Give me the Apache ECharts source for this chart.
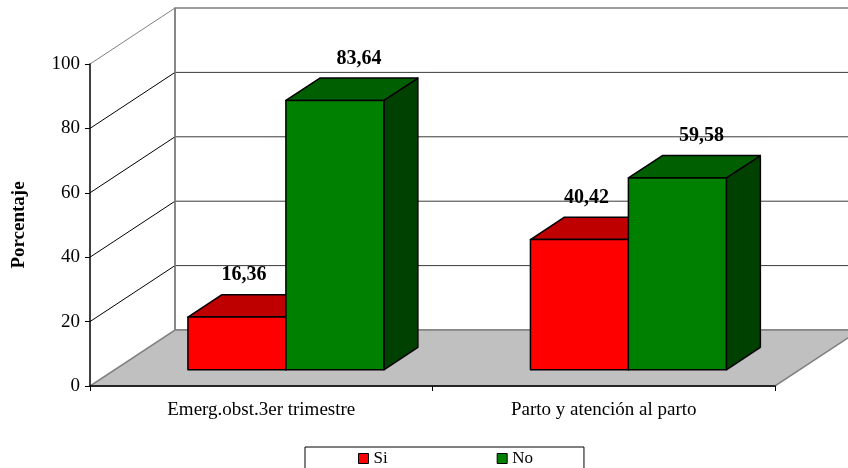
<!DOCTYPE html>
<html>
<head>
<meta charset="utf-8">
<script src="https://cdn.jsdelivr.net/npm/echarts@6/dist/echarts.min.js"></script>
<style>
  html, body { margin: 0; padding: 0; background: #ffffff; }
  #chart { width: 848px; height: 468px; }
</style>
</head>
<body>
<div id="chart"></div>
<script>
// Data
const categories = ['Emerg.obst.3er trimestre', 'Parto y atención al parto'];
const seriesNames = ['Si', 'No'];
const siValues = [16.36, 40.42];
const noValues = [83.64, 59.58];
const yTicks = [0, 20, 40, 60, 80, 100];

// Look
const FONT = '"Liberation Serif", "Times New Roman", serif';
const DEPTH = [85, -56];            // full depth vector of the floor / side wall
const BAR_FRONT = 0.29;             // front plane of the bars, as a share of DEPTH
const BAR_BACK = 0.69;              // back plane of the bars
const BAR_FRAC = 0.286;             // width of one bar as a share of the category band
const LABEL_DX = [7, 24];
const LABEL_DY = -42;
const palettes = [
  { front: '#FF0000', top: '#BF0000', side: '#990000' },
  { front: '#008000', top: '#005F00', side: '#004000' }
];

const chart = echarts.init(document.getElementById('chart'), null, { renderer: 'canvas' });

// Walls, floor and gridlines of the 3D box
function renderFrame(params, api) {
  const cs = params.coordSys;
  const x0 = cs.x, x1 = cs.x + cs.width;
  const y0 = api.coord([0, 0])[1];
  const yTop = api.coord([0, 100])[1];
  const dx = DEPTH[0], dy = DEPTH[1];
  const children = [];
  children.push({ type: 'polygon',
    shape: { points: [[x0, y0], [x0, yTop], [x0 + dx, yTop + dy], [x0 + dx, y0 + dy]] },
    style: { fill: '#ffffff' } });
  children.push({ type: 'rect',
    shape: { x: x0 + dx, y: yTop + dy, width: cs.width, height: y0 - yTop },
    style: { fill: '#ffffff', stroke: '#808080', lineWidth: 1.5 } });
  children.push({ type: 'polygon',
    shape: { points: [[x0, y0], [x1, y0], [x1 + dx, y0 + dy], [x0 + dx, y0 + dy]] },
    style: { fill: '#C0C0C0', stroke: '#808080', lineWidth: 1.5 } });
  yTicks.forEach(function (v) {
    if (v === 0) return;
    const y = api.coord([0, v])[1];
    children.push({ type: 'line',
      shape: { x1: x0, y1: y, x2: x0 + dx, y2: y + dy },
      style: { stroke: v === 100 ? '#808080' : '#000000', lineWidth: 1 } });
    if (v < 100) {
      children.push({ type: 'line',
        shape: { x1: x0 + dx, y1: y + dy, x2: x1 + dx, y2: y + dy },
        style: { stroke: '#3a3a3a', lineWidth: 1 } });
    }
  });
  children.push({ type: 'line',
    shape: { x1: x0 + dx, y1: y0 + dy, x2: x0 + dx, y2: yTop + dy },
    style: { stroke: '#808080', lineWidth: 1.5 } });
  return { type: 'group', children: children };
}

// 3D bars with value labels
function makeBarRenderer(s) {
  return function (params, api) {
    const cat = api.value(0);
    const val = api.value(1);
    const base = api.coord([cat, 0]);
    const top = api.coord([cat, val]);
    const band = api.size([1, 0])[0];
    const w = band * BAR_FRAC;
    const fx = DEPTH[0] * BAR_FRONT, fy = DEPTH[1] * BAR_FRONT;
    const bx = DEPTH[0] * (BAR_BACK - BAR_FRONT), by = DEPTH[1] * (BAR_BACK - BAR_FRONT);
    const left = base[0] + fx + (s === 0 ? -w : 0);
    const right = left + w;
    const yb = base[1] + fy, yt = top[1] + fy;
    const p = palettes[s];
    const edge = { stroke: '#000000', lineWidth: 1.5, lineJoin: 'round' };
    return { type: 'group', children: [
      { type: 'polygon',
        shape: { points: [[right, yb], [right + bx, yb + by], [right + bx, yt + by], [right, yt]] },
        style: Object.assign({ fill: p.side }, edge) },
      { type: 'polygon',
        shape: { points: [[left, yt], [right, yt], [right + bx, yt + by], [left + bx, yt + by]] },
        style: Object.assign({ fill: p.top }, edge) },
      { type: 'rect',
        shape: { x: left, y: yt, width: w, height: yb - yt },
        style: Object.assign({ fill: p.front }, edge) },
      { type: 'text',
        style: { text: val.toFixed(2).replace('.', ','),
          x: (left + right) / 2 + LABEL_DX[s], y: yt + LABEL_DY,
          align: 'center', verticalAlign: 'middle',
          font: 'bold 20px ' + FONT, fill: '#000000' } }
    ] };
  };
}

const seriesData = [siValues, noValues];

const option = {
  backgroundColor: '#ffffff',
  animation: false,
  grid: { left: 90, top: 64, width: 685, height: 322, outerBoundsMode: 'none', containLabel: false },
  xAxis: {
    type: 'category',
    data: categories,
    z: 10,
    boundaryGap: true,
    axisLine: { lineStyle: { color: '#000000', width: 1.5 } },
    axisTick: { show: true, length: 5, lineStyle: { color: '#000000' } },
    axisLabel: { color: '#000000', fontFamily: FONT, fontSize: 19, margin: 15 },
    splitLine: { show: false }
  },
  yAxis: {
    type: 'value',
    min: 0, max: 100, interval: 20,
    z: 10,
    name: 'Porcentaje',
    nameLocation: 'middle',
    nameRotate: 90,
    nameGap: 61,
    nameTextStyle: { color: '#000000', fontFamily: FONT, fontSize: 19, fontWeight: 'bold' },
    axisLine: { show: true, lineStyle: { color: '#000000', width: 1.5 } },
    axisTick: { show: true, length: 5, lineStyle: { color: '#000000' } },
    axisLabel: { color: '#000000', fontFamily: FONT, fontSize: 19, margin: 10 },
    splitLine: { show: false }
  },
  legend: {
    data: seriesNames,
    left: 305,
    top: 447,
    orient: 'horizontal',
    icon: 'rect',
    itemWidth: 10,
    itemHeight: 10,
    itemGap: 109,
    padding: [3, 51, 8, 53],
    borderColor: '#000000',
    borderWidth: 1,
    backgroundColor: '#ffffff',
    itemStyle: { borderColor: '#000000', borderWidth: 1 },
    textStyle: { color: '#000000', fontFamily: FONT, fontSize: 17 }
  },
  series: [
    {
      type: 'custom',
      name: 'frame',
      z: 1,
      silent: true,
      clip: false,
      renderItem: renderFrame,
      data: [[0, 0]]
    },
    {
      type: 'custom',
      name: seriesNames[0],
      z: 3,
      clip: false,
      itemStyle: { color: palettes[0].front },
      renderItem: makeBarRenderer(0),
      data: categories.map(function (c, i) { return [i, seriesData[0][i]]; })
    },
    {
      type: 'custom',
      name: seriesNames[1],
      z: 4,
      clip: false,
      itemStyle: { color: palettes[1].front },
      renderItem: makeBarRenderer(1),
      data: categories.map(function (c, i) { return [i, seriesData[1][i]]; })
    }
  ]
};

chart.setOption(option);
</script>
</body>
</html>
